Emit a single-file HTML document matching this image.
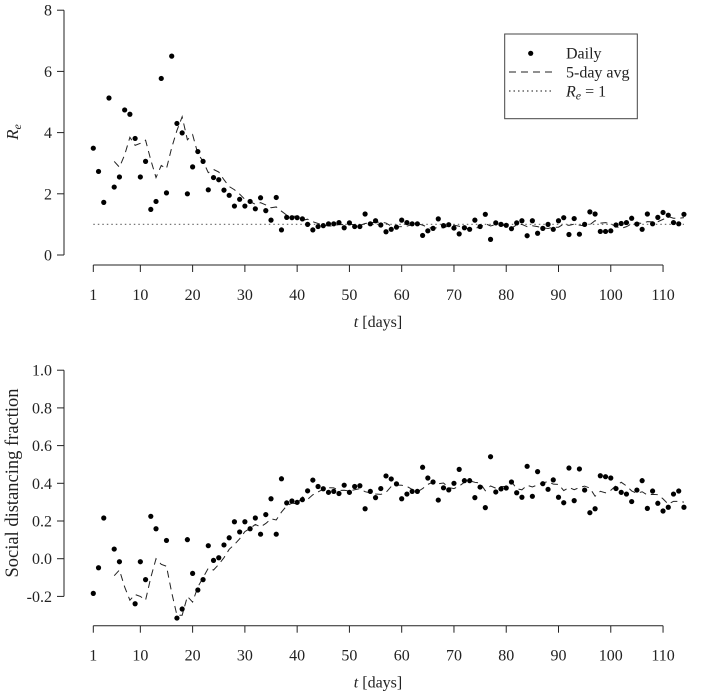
<!DOCTYPE html>
<html><head><meta charset="utf-8"><style>
html,body{margin:0;padding:0;background:#fff;}
svg{display:block;font-family:"Liberation Serif",serif;}
</style></head><body>
<svg id="chart" width="709" height="691" viewBox="0 0 709 691" xmlns="http://www.w3.org/2000/svg">
<g id="top"></g>
<g id="bot"></g>
</svg>
<script>
const reDaily = [3.49,2.73,1.72,5.13,2.22,2.55,4.74,4.6,3.81,2.55,3.06,1.49,1.75,5.77,2.03,6.5,4.3,3.99,2.0,2.88,3.38,3.06,2.13,2.53,2.46,2.12,1.95,1.6,1.82,1.6,1.75,1.51,1.87,1.45,1.14,1.88,0.82,1.23,1.22,1.22,1.18,1.0,0.82,0.93,0.96,1.02,1.02,1.06,0.89,1.05,0.93,0.93,1.34,1.02,1.12,0.98,0.76,0.84,0.91,1.14,1.06,1.02,1.02,0.64,0.79,0.87,1.18,0.96,0.99,0.88,0.69,0.89,0.84,1.14,0.93,1.33,0.51,1.05,1.0,0.97,0.86,1.05,1.12,0.63,1.12,0.71,0.87,1.0,0.84,1.12,1.22,0.67,1.19,0.68,1.0,1.41,1.34,0.77,0.77,0.79,0.98,1.03,1.06,1.2,1.01,0.84,1.34,1.02,1.23,1.39,1.3,1.06,1.02,1.33];
const sdDaily = [-0.184,-0.048,0.216,null,0.051,-0.016,null,null,-0.239,-0.016,-0.111,0.225,0.159,null,0.097,null,-0.315,-0.267,0.101,-0.078,-0.166,-0.111,0.069,-0.009,0.005,0.073,0.111,0.196,0.142,0.196,0.159,0.216,0.13,0.234,0.318,0.13,0.424,0.296,0.306,0.299,0.313,0.36,0.417,0.383,0.371,0.352,0.357,0.346,0.39,0.352,0.383,0.387,0.265,0.357,0.324,0.372,0.439,0.423,0.397,0.318,0.343,0.357,0.357,0.485,0.428,0.407,0.311,0.376,0.365,0.4,0.474,0.414,0.414,0.324,0.38,0.271,0.541,0.354,0.37,0.375,0.407,0.35,0.326,0.49,0.331,0.462,0.398,0.368,0.418,0.326,0.297,0.481,0.308,0.476,0.364,0.244,0.265,0.44,0.435,0.428,0.372,0.352,0.343,0.303,0.364,0.414,0.267,0.359,0.294,0.253,0.273,0.343,0.359,0.273];
// 5-day average for days 5..25 (early days include unobserved values)
const sdAvgEarly = [-0.09,-0.06,-0.15,-0.22,-0.19,-0.2,-0.22,-0.1,0.0,-0.03,-0.04,-0.18,-0.3,-0.3,-0.2,-0.23,-0.15,-0.1,-0.05,-0.06,-0.03];
const xTickLabels = [1,10,20,30,40,50,60,70,80,90,100,110];
const reTickLabels = [0,2,4,6,8];
const sdTickLabels = [-0.2,0.0,0.2,0.4,0.6,0.8,1.0];

const NS="http://www.w3.org/2000/svg";
function mk(parent,tag,attrs,text){const e=document.createElementNS(NS,tag);for(const k in attrs)e.setAttribute(k,attrs[k]);if(text!==undefined)e.textContent=text;parent.appendChild(e);return e;}
const xDay = d => 93.3 + (d-1)*5.227;
function avg5(arr){const out=[];for(let i=0;i<arr.length;i++){if(i<4){out.push(null);continue;}let s=0,n=0;for(let j=i-4;j<=i;j++){if(arr[j]!==null){s+=arr[j];n++;}}out.push(n?s/n:null);}return out;}

function panel(g, data, av, yScale, yTicks, yFmt, xAxisY, ylabelHTML, ylabelY, ylabelSize, refLine){
  const ya=mk(g,'line',{x1:64,x2:64,y1:yScale(yTicks[yTicks.length-1]),y2:yScale(yTicks[0]),stroke:'#222','stroke-width':1});
  
  
  yTicks.forEach(v=>{
    const t=mk(g,'line',{x1:57,x2:64,y1:yScale(v),y2:yScale(v),stroke:'#222','stroke-width':1});
    
    
    const l=mk(g,'text',{x:52,y:yScale(v)+5.5,'text-anchor':'end','font-size':16,fill:'#222'},yFmt(v));
    
    
  });
  const xa=mk(g,'line',{x1:xDay(1),x2:xDay(110),y1:xAxisY,y2:xAxisY,stroke:'#222','stroke-width':1});
  
  
  xTickLabels.forEach(d=>{
    const t=mk(g,'line',{x1:xDay(d),x2:xDay(d),y1:xAxisY,y2:xAxisY+7,stroke:'#222','stroke-width':1});
    
    
    const l=mk(g,'text',{x:xDay(d),y:xAxisY+35,'text-anchor':'middle','font-size':16,fill:'#222'},String(d));
    
    
  });
  const xt=mk(g,'text',{x:378,y:xAxisY+62,'text-anchor':'middle','font-size':16,fill:'#222'});
  xt.innerHTML='<tspan font-style="italic">t</tspan> [days]';
  
  
  const yt=mk(g,'text',{x:0,y:0,'text-anchor':'middle','font-size':ylabelSize,fill:'#222',transform:`translate(18,${ylabelY}) rotate(-90)`});
  yt.innerHTML=ylabelHTML;
  
  
  if(refLine!==null){
    const r=mk(g,'line',{x1:xDay(1),x2:xDay(data.length),y1:yScale(refLine),y2:yScale(refLine),stroke:'#777','stroke-width':1.3,'stroke-dasharray':'1.5,3'});
    
    
  }
  let dstr='';let pen=false;
  av.forEach((v,i)=>{if(v===null){pen=false;return;}dstr+=(pen?'L':'M')+xDay(i+1).toFixed(2)+','+yScale(v).toFixed(2);pen=true;});
  const p=mk(g,'path',{d:dstr,fill:'none',stroke:'#222','stroke-width':1,'stroke-dasharray':'7,5'});
  
  
  data.forEach((v,i)=>{
    if(v===null)return;
    const c=mk(g,'circle',{cx:xDay(i+1),cy:yScale(v),r:2.6,fill:'#000'});
    
    
  });
}
const yRe = v => 255 - 30.6*v;
const ySd = v => 558.7 - 188.5*v;
const sdAvg = avg5(sdDaily).map((v,i)=> (i>=4 && i-4<sdAvgEarly.length) ? sdAvgEarly[i-4] : v);
panel(document.getElementById('top'), reDaily, avg5(reDaily), yRe, reTickLabels, v=>String(v), 265,
  '<tspan font-style="italic">R</tspan><tspan font-style="italic" font-size="12" dy="3">e</tspan>', 132, 17, 1);
panel(document.getElementById('bot'), sdDaily, sdAvg, ySd, sdTickLabels, v=>v.toFixed(1), 625.7,
  'Social distancing fraction', 483, 18.5, null);

const tg=document.getElementById('top');
const lg=mk(tg,'g',{});


mk(lg,'rect',{x:504.7,y:34,width:132.6,height:84.7,fill:'#fff',stroke:'#444','stroke-width':1});
const e1=mk(lg,'circle',{cx:530.7,cy:53.3,r:2.6,fill:'#000'});


mk(lg,'text',{x:566,y:58.5,'font-size':16,fill:'#222'},'Daily');
const e2=mk(lg,'line',{x1:509,x2:552,y1:72,y2:72,stroke:'#222','stroke-width':1,'stroke-dasharray':'7,5'});


mk(lg,'text',{x:566,y:77.5,'font-size':16,fill:'#222'},'5-day avg');
const e3=mk(lg,'line',{x1:509,x2:552,y1:91,y2:91,stroke:'#444','stroke-width':1.2,'stroke-dasharray':'1.5,3'});


const t3=mk(lg,'text',{x:566,y:96.5,'font-size':16,fill:'#222'});
t3.innerHTML='<tspan font-style="italic">R</tspan><tspan font-style="italic" font-size="12" dy="3">e</tspan><tspan dy="-3"> = 1</tspan>';
</script>
</body></html>
